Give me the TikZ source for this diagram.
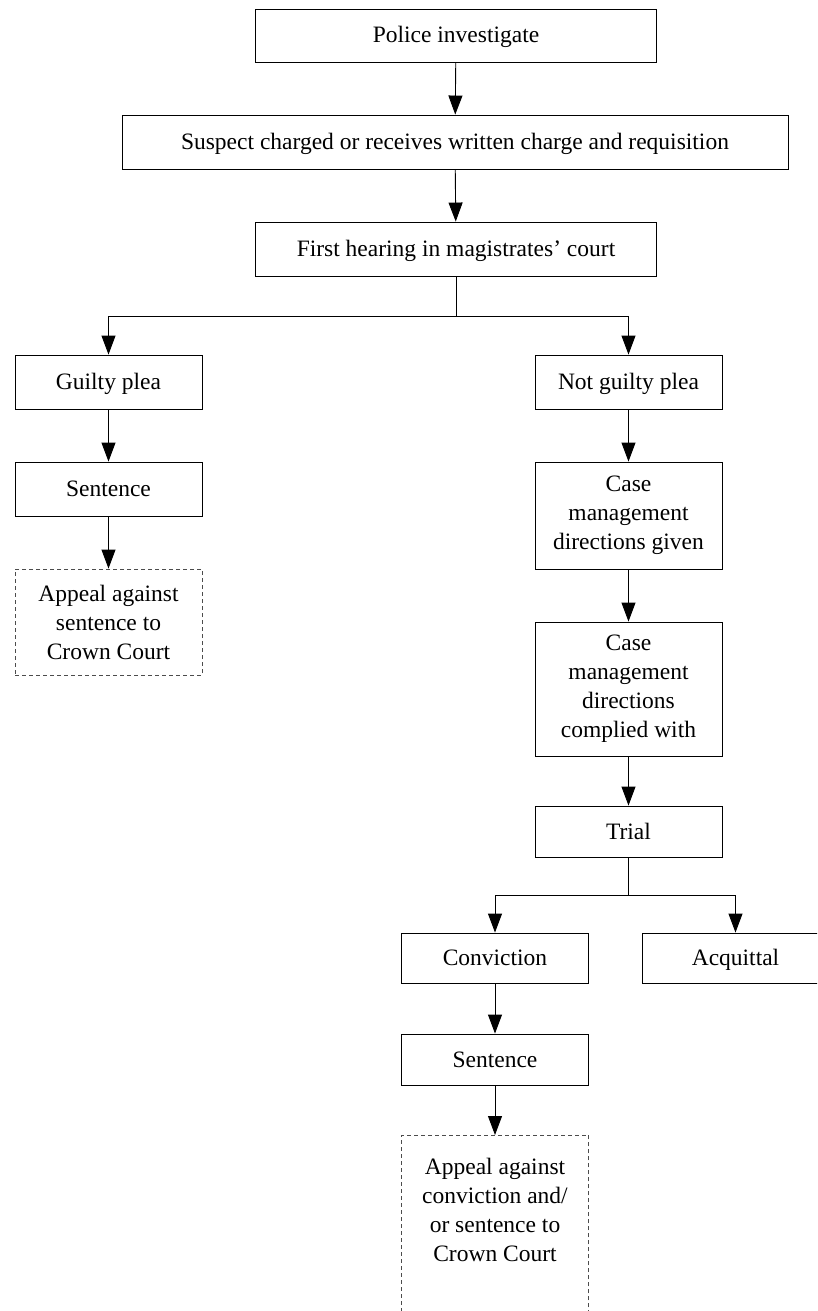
\documentclass[tikz,border=0pt]{standalone}
\usepackage{fontspec}
\setmainfont{Liberation Serif}
\usetikzlibrary{arrows.meta}
\begin{document}
\begin{tikzpicture}[x=1pt,y=-1pt,
  every node/.style={font=\fontsize{23.5}{29}\selectfont, align=center, inner sep=0pt},
  oneline/.style={text height=18pt, text depth=3pt},
  stage/.style={draw, line width=0.9pt, minimum width=187pt},
  wide/.style={draw, line width=0.9pt, oneline},
  appealbox/.style={draw=black!70, line width=0.9pt, dash pattern=on 4pt off 3pt, minimum width=187pt},
  flow/.style={line width=0.9pt, -{Triangle[length=19pt,width=14pt]}},
  link/.style={line width=0.9pt}]
\useasboundingbox (0,0) rectangle (817,1311);
\begin{scope}
\clip (0,0) rectangle (817,1311);

% top chain
\node[wide, minimum width=401pt, minimum height=53pt] (police) at (456,35.5) {Police investigate};
\node[wide, minimum width=666pt, minimum height=54pt] (suspect) at (455,142) {Suspect charged or receives written charge and requisition};
\node[wide, minimum width=401pt, minimum height=54pt] (first) at (456,249) {First hearing in magistrates’ court};

% guilty branch
\node[stage, oneline, minimum height=54pt] (guilty) at (108.5,382) {Guilty plea};
\node[stage, oneline, minimum height=54pt] (sentL) at (108.5,489) {Sentence};
\node[appealbox, minimum height=106pt] (appealL) at (108.5,622) {Appeal against\\sentence to\\Crown Court};

% not guilty branch
\node[stage, oneline, minimum height=54pt] (notguilty) at (628.5,382) {Not guilty plea};
\node[stage, minimum height=107pt] (cmgiven) at (628.5,515.5) {Case\\management\\directions given};
\node[stage, minimum height=134pt] (cmdone) at (628.5,689) {Case\\management\\directions\\complied with};
\node[stage, oneline, minimum height=51pt] (trial) at (628.5,831.5) {Trial};

% trial outcomes
\node[stage, oneline, minimum height=50pt] (conviction) at (495,958) {Conviction};
\node[stage, oneline, minimum height=50pt] (acquittal) at (735.5,958) {Acquittal};
\node[stage, oneline, minimum height=51pt] (sentR) at (495,1059.5) {Sentence};
\node[appealbox, minimum height=195pt, anchor=north] (appealR) at (495,1135) {};
\node[anchor=north] (appealRtext) at ([yshift=-23pt]appealR.north) {Appeal against\\conviction and/\\or sentence to\\Crown Court};

% branch points
\coordinate (split1) at (456,316);
\coordinate (split2) at (628.5,895);

% connectors
\draw[flow] (police) -- (suspect);
\draw[flow] (suspect) -- (first);
\draw[link] (first.south) -- (split1);
\draw[flow] (split1) -| (guilty.north);
\draw[flow] (split1) -| (notguilty.north);
\draw[flow] (guilty) -- (sentL);
\draw[flow] (sentL) -- (appealL);
\draw[flow] (notguilty) -- (cmgiven);
\draw[flow] (cmgiven) -- (cmdone);
\draw[flow] (cmdone) -- (trial);
\draw[link] (trial.south) -- (split2);
\draw[flow] (split2) -| (conviction.north);
\draw[flow] (split2) -| (acquittal.north);
\draw[flow] (conviction) -- (sentR);
\draw[flow] (sentR) -- (appealR.north);
\end{scope}
\end{tikzpicture}
\end{document}
